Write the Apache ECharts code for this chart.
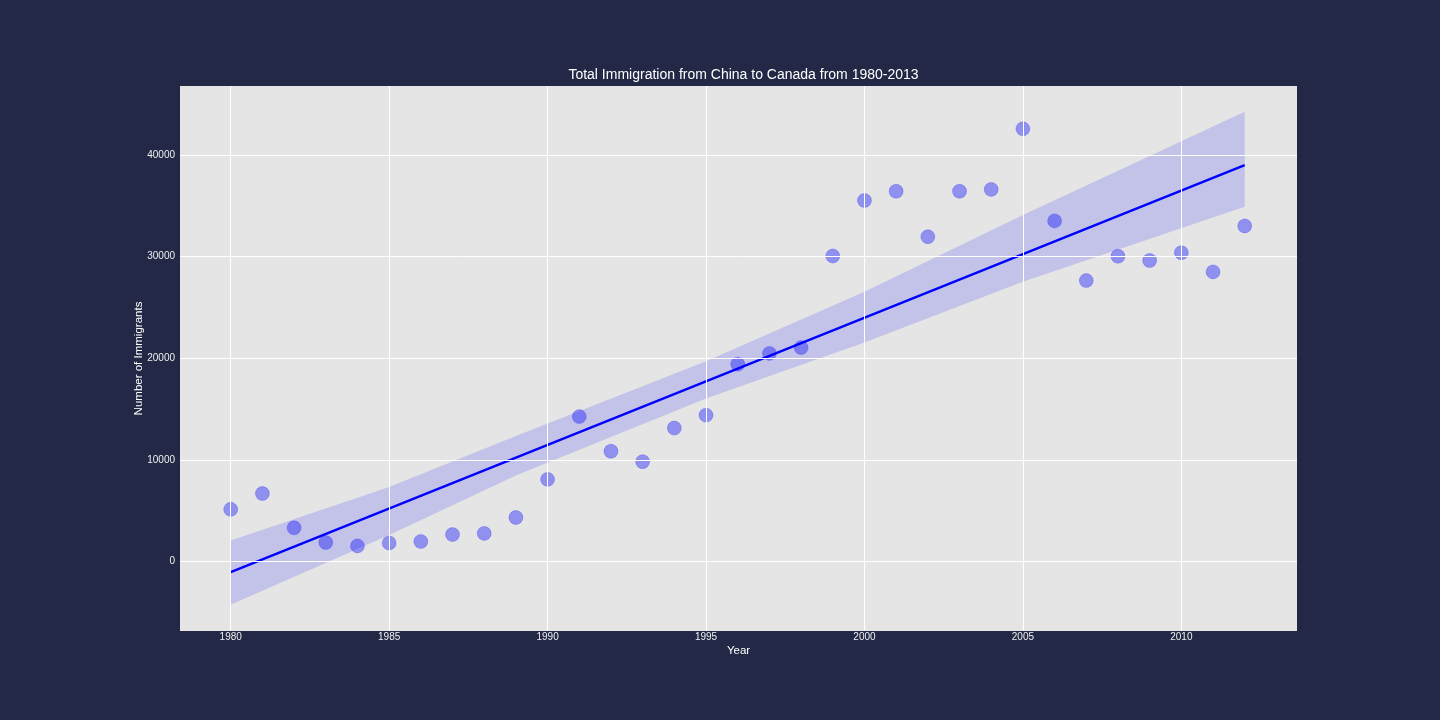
<!DOCTYPE html>
<html>
<head>
<meta charset="utf-8">
<script src="https://cdn.jsdelivr.net/npm/echarts@6/dist/echarts.min.js"></script>
<style>
html,body{margin:0;padding:0;background:#222845;}
#chart{width:1440px;height:720px;}
</style>
</head>
<body>
<div id="chart"></div>
<script>
const years = [1980,1981,1982,1983,1984,1985,1986,1987,1988,1989,1990,1991,1992,1993,1994,1995,1996,1997,1998,1999,2000,2001,2002,2003,2004,2005,2006,2007,2008,2009,2010,2011,2012];
const immigrants = [5123,6682,3308,1863,1527,1816,1960,2643,2758,4323,8076,14255,10846,9817,13128,14398,19415,20475,21049,30069,35529,36434,31961,36439,36619,42584,33518,27642,30037,29622,30391,28502,33024];
const fitYears = [1980, 2012];
const fitValues = [-1060, 39010];
const bandYears = [1980, 1985, 1989, 1995, 2000, 2005, 2012];
const bandUpper = [2070, 7320, 12350, 19700, 26550, 34090, 44270];
const bandLower = [-4270, 2590, 8460, 16030, 21550, 27520, 34910];
const xTicks = [1980, 1985, 1990, 1995, 2000, 2005, 2010];
const yTicks = [0, 10000, 20000, 30000, 40000];

const FONT = "'Liberation Sans', Arial, sans-serif";
const chart = echarts.init(document.getElementById('chart'));
chart.setOption({
  animation: false,
  backgroundColor: '#222845',
  title: {
    text: 'Total Immigration from China to Canada from 1980-2013',
    left: 738.5, top: 63, textAlign: 'center',
    textStyle: {color: '#ffffff', fontSize: 14, fontWeight: 'normal', fontFamily: FONT}
  },
  grid: {left: 180, top: 86, width: 1117, height: 545, show: true, backgroundColor: '#e5e5e5', borderWidth: 0},
  xAxis: {
    type: 'value', min: 1978.4, max: 2013.65,
    name: 'Year', nameLocation: 'middle', nameGap: 14, nameMoveOverlap: false,
    nameTextStyle: {color: '#ffffff', fontSize: 11.5, fontFamily: FONT},
    axisLine: {show: false}, axisTick: {show: false}, splitLine: {show: false},
    axisLabel: {customValues: xTicks, color: '#f0f0f0', fontSize: 10, fontFamily: FONT, margin: 1, formatter: v => String(v)}
  },
  yAxis: {
    type: 'value', min: -6850, max: 46800,
    name: 'Number of Immigrants', nameLocation: 'middle', nameGap: 35, nameMoveOverlap: false,
    nameTextStyle: {color: '#ffffff', fontSize: 11.5, fontFamily: FONT},
    axisLine: {show: false}, axisTick: {show: false}, splitLine: {show: false},
    axisLabel: {customValues: yTicks, color: '#f0f0f0', fontSize: 10, fontFamily: FONT, margin: 5, formatter: v => String(v)}
  },
  series: [
    {
      name: 'grid', type: 'line', data: [], z: 1, silent: true,
      markLine: {
        silent: true, symbol: ['none', 'none'], label: {show: false},
        lineStyle: {color: '#ffffff', width: 1, type: 'solid'},
        emphasis: {disabled: true},
        data: xTicks.map(v => ({xAxis: v})).concat(yTicks.map(v => ({yAxis: v})))
      }
    },
    {
      name: 'points', type: 'scatter', z: 2,
      data: years.map((y, i) => [y, immigrants[i]]),
      symbolSize: 14,
      itemStyle: {color: 'rgba(0,0,255,0.46)', borderColor: 'rgba(0,0,255,0.25)', borderWidth: 1}
    },
    {
      name: 'band', type: 'custom', z: 3, silent: true,
      data: bandYears.map((y, i) => [y, bandUpper[i], bandLower[i]]),
      encode: {x: 0, y: [1, 2]},
      renderItem: function (params, api) {
        if (params.dataIndex !== 0) return null;
        const up = bandYears.map((y, i) => api.coord([y, bandUpper[i]]));
        const lo = bandYears.map((y, i) => api.coord([y, bandLower[i]])).reverse();
        return {type: 'polygon', shape: {points: up.concat(lo)}, style: {fill: 'rgba(0,0,255,0.15)'}};
      }
    },
    {
      name: 'fit', type: 'line', z: 4, silent: true,
      data: fitYears.map((y, i) => [y, fitValues[i]]),
      symbol: 'none',
      lineStyle: {color: '#0000ff', width: 2.4}
    }
  ]
});
</script>
</body>
</html>
